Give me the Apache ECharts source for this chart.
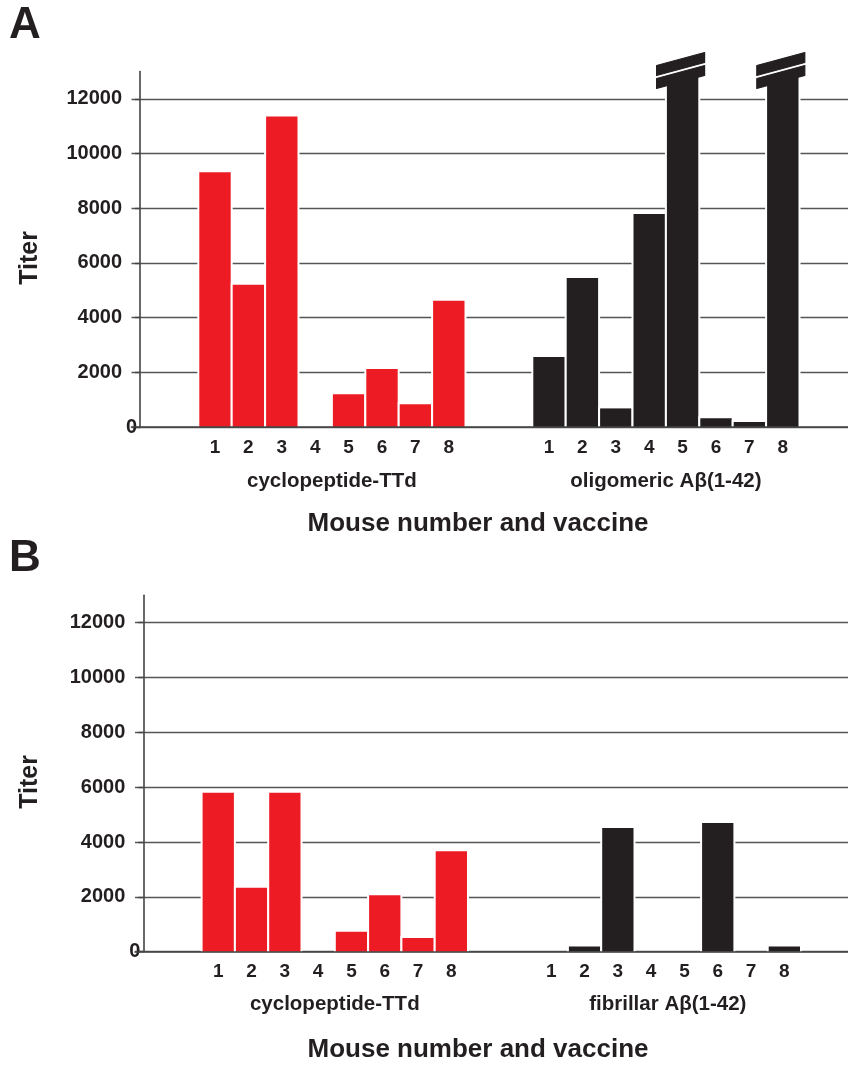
<!DOCTYPE html>
<html><head><meta charset="utf-8">
<script src="https://cdn.jsdelivr.net/npm/echarts@6/dist/echarts.min.js"></script>
<style>html,body{margin:0;padding:0;background:#fff;overflow:hidden}#c{width:848px;height:1067px}</style>
</head><body><div id="c"></div>
<script>
// ---- data ----
const mice = ['1','2','3','4','5','6','7','8'];
const cycloA = [9320, 5200, 11350, 0, 1200, 2120, 830, 4620];
const oligoA = [2560, 5450, 680, 7790, 13000, 320, 180, 13000]; // mice 5 and 8 off-scale (broken bars)
const brokenA = ['5', '8'];
const cycloB = [5800, 2330, 5800, 0, 730, 2060, 500, 3660];
const fibrilB = [0, 190, 4510, 0, 0, 4690, 0, 190];
const yTickValues = [0, 2000, 4000, 6000, 8000, 10000, 12000];
const groupsA = ['cyclopeptide-TTd', 'oligomeric A\u03b2(1-42)'];
const groupsB = ['cyclopeptide-TTd', 'fibrillar A\u03b2(1-42)'];
const axisTitleX = 'Mouse number and vaccine';
const axisTitleY = 'Titer';

// ---- layout ----
const FONT = '"Liberation Sans", Arial, Helvetica, sans-serif';
const INK = '#231F20';
const RED = '#ED1C24';
const RED_START = 1, BLACK_START = 11;   // slot position of mouse 1 in each group
const X_MIN = -1.5;
const W = 848, H = 1067;
const gA = {left: 131.5, top: 71.5, bottom: H - 427, w: 33.4, axisX: 140};
const gB = {left: 135, top: 595.2, bottom: H - 951.7, w: 33.3, axisX: 143.3};
const labelSlots = mice.map((m, i) => RED_START + i).concat(mice.map((m, i) => BLACK_START + i));

function pairs(values, start) { return values.map((v, i) => [start + i, v]); }
function slotLabel(v) {
  const r = Math.round(v);
  if (r >= BLACK_START) return mice[r - BLACK_START] || '';
  return mice[r - RED_START] || '';
}

function xAxisFor(gi, g) {
  return {
    type: 'value', gridIndex: gi, min: X_MIN, max: X_MIN + (W - g.left) / g.w, z: 10,
    axisLine: {show: true, onZero: false, lineStyle: {color: '#444', width: 1.6}},
    axisTick: {show: false},
    splitLine: {show: false},
    axisLabel: {color: INK, fontFamily: FONT, fontWeight: 'bold', fontSize: 19, margin: 11,
      customValues: labelSlots, formatter: slotLabel}
  };
}
function yAxisFor(gi, g) {
  return {
    type: 'value', gridIndex: gi, min: 0, max: 13000, interval: 2000,
    offset: -(g.axisX - g.left),
    axisLine: {show: true, onZero: false, lineStyle: {color: '#444', width: 1.6}},
    axisTick: {show: true, length: 5, lineStyle: {color: '#444', width: 1.4}},
    splitLine: {show: true, showMaxLine: false, lineStyle: {color: '#555', width: 1.4}},
    axisLabel: {
      showMaxLabel: false, margin: 3,
      formatter: v => yTickValues.indexOf(v) < 0 ? '' : (v === 0 ? '{z|0}' : '{n|' + v + '}'),
      rich: {
        n: {color: INK, fontFamily: FONT, fontWeight: 'bold', fontSize: 20, padding: [0, 15, 0, 0]},
        z: {color: INK, fontFamily: FONT, fontWeight: 'bold', fontSize: 20}
      }
    }
  };
}
// bars: coloured fill with a 2px white halo (sides and top), drawn from the axes' scales
function bars(gi, values, start, color) {
  return {
    type: 'custom', xAxisIndex: gi, yAxisIndex: gi, z: 2, silent: true,
    data: pairs(values, start),
    encode: {x: 0, y: 1},
    renderItem: (params, api) => {
      const x = api.value(0), v = api.value(1);
      if (!v) return null;
      const top = api.coord([x, v]);
      const base = api.coord([x, 0]);
      const band = api.size([1, 0])[0];
      const fw = band - 2;
      return {type: 'group', children: [
        {type: 'rect', shape: {x: top[0] - fw / 2 - 2, y: top[1] - 2, width: fw + 4, height: base[1] - top[1] + 2}, style: {fill: '#fff'}},
        {type: 'rect', shape: {x: top[0] - fw / 2, y: top[1], width: fw, height: base[1] - top[1]}, style: {fill: color}}
      ]};
    }
  };
}
function breakSeries(gi, labels, start, top) {
  return {
    type: 'custom', xAxisIndex: gi, yAxisIndex: gi, z: 5, clip: false, silent: true,
    data: labels.map(l => [start + mice.indexOf(l), top]),
    encode: {x: 0, y: 1},
    renderItem: (params, api) => {
      const p = api.coord([api.value(0), api.value(1)]);
      const cx = p[0], cy = p[1];
      const st = {fill: INK, stroke: INK, lineWidth: 1.2, lineJoin: 'round'};
      return {type: 'group', children: [
        {type: 'polygon', shape: {points: [[cx-28, cy+8], [cx+24, cy-6], [cx+24, cy-32], [cx-28, cy-32]]}, style: {fill: '#fff'}},
        {type: 'polygon', shape: {points: [[cx-26, cy+7], [cx+22, cy-6], [cx+22, cy+4], [cx-26, cy+17]]}, style: st},
        {type: 'polygon', shape: {points: [[cx-26, cy-6], [cx+22, cy-19], [cx+22, cy-9], [cx-26, cy+4]]}, style: st}
      ]};
    }
  };
}
function txt(x, y, s, size, extra) {
  return Object.assign({type: 'text', x: x, y: y, silent: true,
    style: {text: s, fill: INK, font: 'bold ' + size + 'px ' + FONT, textAlign: 'center', textVerticalAlign: 'middle'}}, extra || {});
}
function slotX(g, p) { return g.left + (p - X_MIN) * g.w; }

const chart = echarts.init(document.getElementById('c'), null, {renderer: 'canvas'});
chart.setOption({
  backgroundColor: '#fff',
  animation: false,
  grid: [
    {left: gA.left, top: gA.top, bottom: gA.bottom, right: 0, containLabel: false},
    {left: gB.left, top: gB.top, bottom: gB.bottom, right: 0, containLabel: false}
  ],
  xAxis: [xAxisFor(0, gA), xAxisFor(1, gB)],
  yAxis: [yAxisFor(0, gA), yAxisFor(1, gB)],
  series: [
    bars(0, cycloA, RED_START, RED),
    bars(0, oligoA, BLACK_START, INK),
    breakSeries(0, brokenA, BLACK_START, 13000),
    bars(1, cycloB, RED_START, RED),
    bars(1, fibrilB, BLACK_START, INK)
  ],
  graphic: [
    txt(25, 26, 'A', 44),
    txt(25, 559, 'B', 44),
    txt(30, 258, axisTitleY, 25, {rotation: Math.PI / 2}),
    txt(30, 782, axisTitleY, 25, {rotation: Math.PI / 2}),
    txt(slotX(gA, RED_START + 3.5), 481, groupsA[0], 20.5),
    txt(slotX(gA, BLACK_START + 3.5), 481, groupsA[1], 20.5),
    txt(slotX(gB, RED_START + 3.5), 1004, groupsB[0], 20.5),
    txt(slotX(gB, BLACK_START + 3.5), 1004, groupsB[1], 20.5),
    txt(478, 524, axisTitleX, 26),
    txt(478, 1050, axisTitleX, 26)
  ]
});
</script></body></html>
